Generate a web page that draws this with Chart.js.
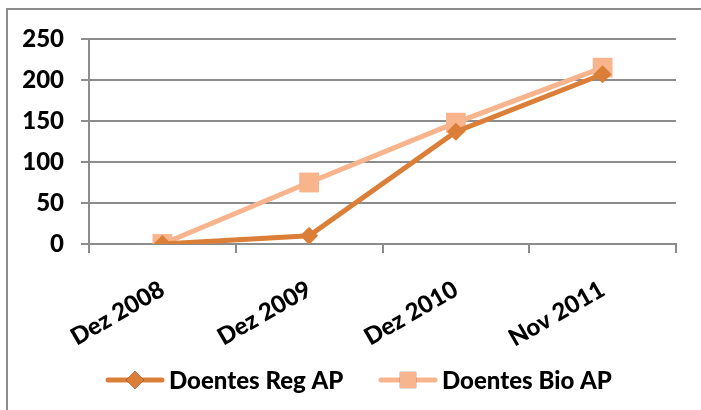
<!DOCTYPE html>
<html>
<head>
<meta charset="utf-8">
<script src="https://cdn.jsdelivr.net/npm/chart.js@4.4.0/dist/chart.umd.min.js"></script>
<style>
  html, body { margin: 0; padding: 0; background: #fff; }
  #wrap { position: relative; width: 701px; height: 410px; overflow: hidden; }
  #frame { position: absolute; left: 6px; top: 8px; right: -10px; bottom: -10px;
           border-left: 2px solid #8c8c8c; border-top: 2px solid #8c8c8c; }
  canvas { position: absolute; left: 0; top: 0; }
</style>
</head>
<body>
<div id="wrap">
  <div id="frame"></div>
  <canvas id="myChart" width="701" height="410"></canvas>
</div>
<script>
// categories and values
let labels = ['Dez 2008', 'Dez 2009', 'Dez 2010', 'Nov 2011'];
let regValues = [0, 10, 137, 207];
let bioValues = [0, 75, 148, 215];
let yTicks = [0, 50, 100, 150, 200, 250];

let regColor = '#db7f38';
let bioColor = '#f8b48d';
let fontFamily = 'Lato, "Open Sans", sans-serif';

// legend with line + marker, drawn under the plot
let legendPlugin = {
    id: 'lineLegend',
    afterDraw(chart) {
        let ctx = chart.ctx;
        let items = [
            { ds: chart.data.datasets[0], x: 108, r: 9 },
            { ds: chart.data.datasets[1], x: 381, r: 11.5 }
        ];
        let y = 380;
        ctx.save();
        items.forEach(it => {
            ctx.strokeStyle = it.ds.borderColor;
            ctx.lineWidth = 5;
            ctx.lineCap = 'round';
            ctx.beginPath();
            ctx.moveTo(it.x, y);
            ctx.lineTo(it.x + 54, y);
            ctx.stroke();
            Chart.helpers.drawPoint(ctx, {
                pointStyle: it.ds.pointStyle,
                radius: it.r,
                rotation: 0,
                borderWidth: 0
            }, it.x + 27, y);
            ctx.fillStyle = it.ds.pointBackgroundColor;
            ctx.fill();
            ctx.fillStyle = '#000';
            ctx.font = '900 24px ' + fontFamily;
            ctx.textBaseline = 'middle';
            ctx.fillText(it.ds.label, it.x + 61, y + 1);
        });
        ctx.restore();
    }
};

let ctx = document.getElementById('myChart').getContext('2d');
let myChart = new Chart(ctx, {
    type: 'line',
    data: {
        labels: labels,
        datasets: [{
            label: 'Doentes Reg AP',
            data: regValues,
            borderColor: regColor,
            backgroundColor: regColor,
            pointBackgroundColor: regColor,
            pointBorderColor: regColor,
            borderWidth: 5,
            pointStyle: 'rectRot',
            pointRadius: 9,
            pointBorderWidth: 0,
            tension: 0
        }, {
            label: 'Doentes Bio AP',
            data: bioValues,
            borderColor: bioColor,
            backgroundColor: bioColor,
            pointBackgroundColor: bioColor,
            pointBorderColor: bioColor,
            borderWidth: 5,
            pointStyle: 'rect',
            pointRadius: 14,
            pointBorderWidth: 0,
            tension: 0
        }]
    },
    options: {
        responsive: false,
        animation: false,
        layout: { padding: { top: 39, right: 25, bottom: 0, left: 0 } },
        plugins: {
            legend: { display: false },
            tooltip: { enabled: false }
        },
        scales: {
            x: {
                offset: true,
                grid: {
                    offset: true,
                    drawOnChartArea: false,
                    tickLength: 9,
                    color: '#8c8c8c',
                    lineWidth: 2
                },
                border: { color: '#8c8c8c', width: 2 },
                ticks: {
                    color: '#000',
                    font: { family: fontFamily, size: 24, weight: 900 },
                    minRotation: 30,
                    maxRotation: 30,
                    padding: 22
                },
                afterFit(scale) { scale.height = 166; }
            },
            y: {
                min: 0,
                max: 250,
                afterBuildTicks(scale) { scale.ticks = yTicks.map(v => ({ value: v })); },
                grid: {
                    color: '#8c8c8c',
                    lineWidth: 2,
                    tickLength: 8
                },
                border: { color: '#8c8c8c', width: 2 },
                ticks: {
                    color: '#000',
                    font: { family: fontFamily, size: 24, weight: 900 },
                    padding: 17
                },
                afterFit(scale) { scale.width = 89; }
            }
        }
    },
    plugins: [legendPlugin]
});
</script>
</body>
</html>
